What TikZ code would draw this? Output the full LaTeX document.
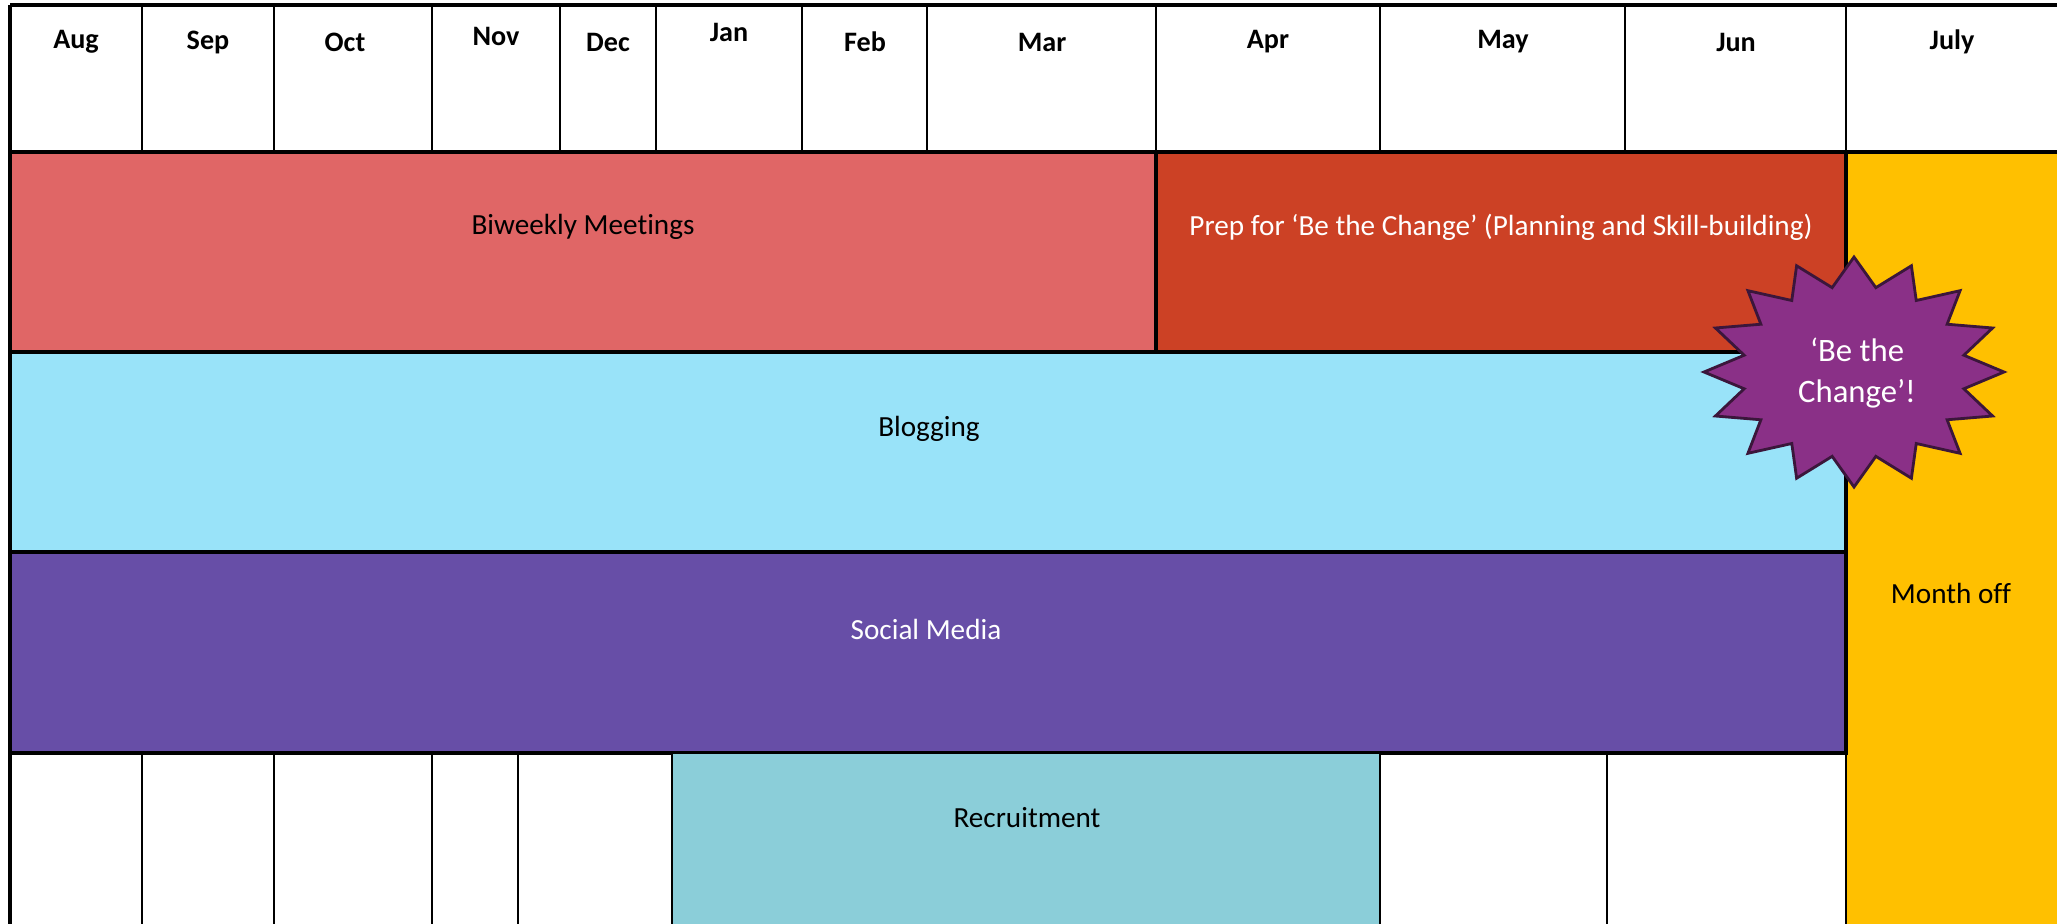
\documentclass[tikz,border=0pt]{standalone}
\usepackage{fontspec}
\setmainfont{Carlito}[Ligatures=CommonOff]
\usepackage{tikz}
\definecolor{biweekly}{HTML}{E06666}
\definecolor{prep}{HTML}{CC4125}
\definecolor{blogging}{HTML}{99E3F9}
\definecolor{social}{HTML}{674EA7}
\definecolor{recruit}{HTML}{8BCED9}
\definecolor{monthoff}{HTML}{FFC000}
\definecolor{starfill}{HTML}{8A3087}
\definecolor{starline}{HTML}{3B163B}

\begin{document}
\begin{tikzpicture}[x=0.01cm,y=-0.01cm]
 \tikzstyle{cell} = [draw=black,line width=0.6pt]
 \tikzstyle{band} = [draw=black,line width=1pt]
 \tikzstyle{month} = [font=\bfseries\fontsize{8}{9.6}\selectfont]
 \tikzstyle{rowlabel} = [font=\fontsize{8.3}{10}\selectfont]
 \tikzstyle{starshape} = [draw=starline,fill=starfill,line width=0.8pt,line join=miter]
 \newcommand{\ytop}{5}
 \newcommand{\yhead}{152}
 \newcommand{\yone}{352}
 \newcommand{\ytwo}{552}
 \newcommand{\ythree}{753}
 \newcommand{\xjuly}{1846}

 \useasboundingbox (0,0) rectangle (2057,924);
 \clip (0,0) rectangle (2057,924);

 % Month off column
 \fill[monthoff] (\xjuly,\yhead) rectangle (2100,1000);

 % Bars
 \draw[band,fill=biweekly] (10,\yhead) rectangle (1156,\yone);
 \draw[band,fill=prep] (1156,\yhead) rectangle (\xjuly,\yone);
 \draw[band,fill=blogging] (10,\yone) rectangle (\xjuly,\ytwo);
 \draw[band,fill=social] (10,\ytwo) rectangle (\xjuly,\ythree);
 \draw[cell,fill=recruit] (672,\ythree) rectangle (1380,1000);

 % Header cells
 \draw[band] (10,\ytop) -- (2100,\ytop);
 \draw[band] (10,\ytop) -- (10,1000);
 \draw[cell] (142,\ytop) -- (142,\yhead);
 \draw[cell] (274,\ytop) -- (274,\yhead);
 \draw[cell] (432,\ytop) -- (432,\yhead);
 \draw[cell] (560,\ytop) -- (560,\yhead);
 \draw[cell] (656,\ytop) -- (656,\yhead);
 \draw[cell] (802,\ytop) -- (802,\yhead);
 \draw[cell] (927,\ytop) -- (927,\yhead);
 \draw[cell] (1156,\ytop) -- (1156,\yhead);
 \draw[cell] (1380,\ytop) -- (1380,\yhead);
 \draw[cell] (1625,\ytop) -- (1625,\yhead);
 \draw[cell] (\xjuly,\ytop) -- (\xjuly,1000);
 \draw[band] (10,\yhead) -- (2100,\yhead);

 % Bottom cells
 \draw[cell] (142,\ythree) -- (142,1000);
 \draw[cell] (274,\ythree) -- (274,1000);
 \draw[cell] (432,\ythree) -- (432,1000);
 \draw[cell] (518,\ythree) -- (518,1000);
 \draw[cell] (1607,\ythree) -- (1607,1000);

 % Months
 \node[month] (aug) at (76,42) {Aug};
 \node[month] (sep) at (208,42) {Sep};
 \node[month] (oct) at (345,42) {Oct};
 \node[month] (nov) at (496,36) {Nov};
 \node[month] (dec) at (608,42) {Dec};
 \node[month] (jan) at (729,32) {Jan};
 \node[month] (feb) at (865,42) {Feb};
 \node[month] (mar) at (1042,42) {Mar};
 \node[month] (apr) at (1268,42) {Apr};
 \node[month] (may) at (1503,42) {May};
 \node[month] (jun) at (1736,42) {Jun};
 \node[month] (jul) at (1952,42) {July};

 % Labels
 \node[rowlabel] (meetings) at (583,227) {Biweekly Meetings};
 \node[rowlabel,white] (prepare) at (1501,227) {Prep for ‘Be the Change’ (Planning and Skill-building)};
 \node[rowlabel] (blog) at (929,429) {Blogging};
 \node[rowlabel,white] (media) at (926,629) {Social Media};
 \node[rowlabel] (recruitment) at (1027,818) {Recruitment};
 \node[rowlabel] (off) at (1951,593) {Month off};

 % Star
 \begin{scope}[shift={(1854,372)}]
  \draw[starshape] (0:150 and 115) \foreach \k in {1,...,15} { -- ({\k*22.5-11.25}:112 and 86) -- ({\k*22.5}:150 and 115) } -- (348.75:112 and 86) -- cycle;
 \end{scope}
 \node[white,align=center,font=\fontsize{9.3}{11.6}\selectfont] (change) at (1857,373) {‘Be the\\Change’!};

\end{tikzpicture}
\end{document}
